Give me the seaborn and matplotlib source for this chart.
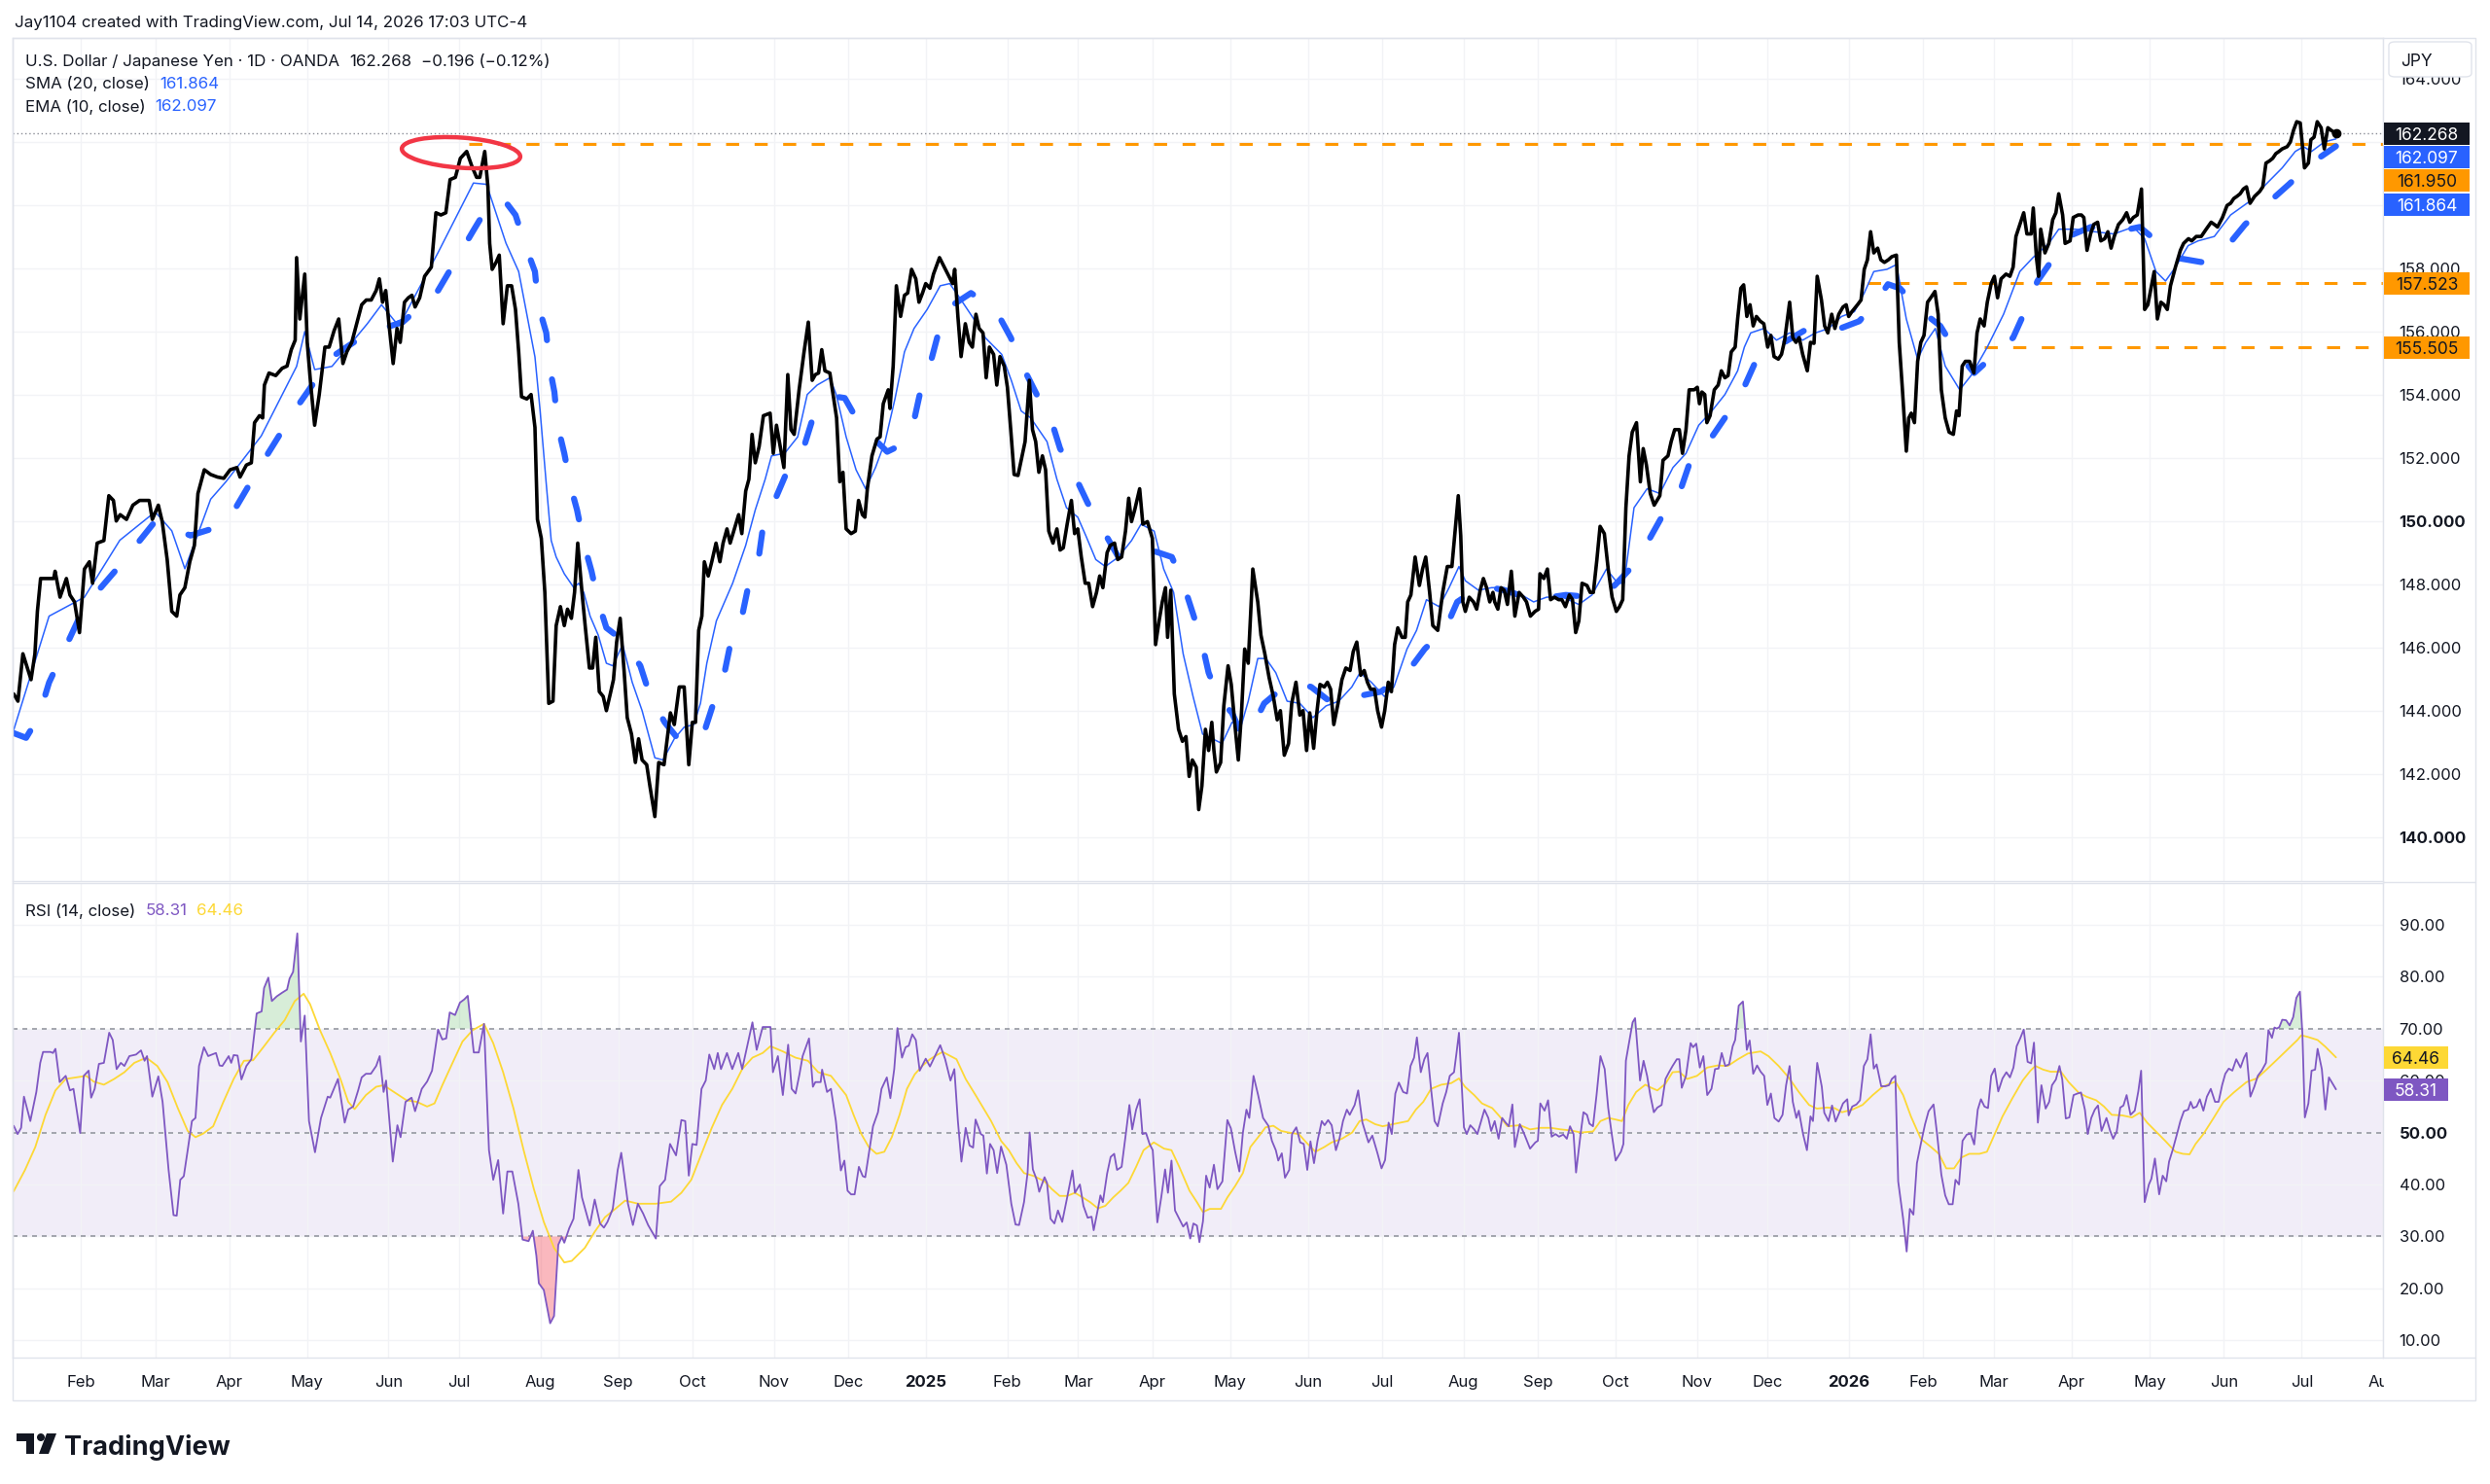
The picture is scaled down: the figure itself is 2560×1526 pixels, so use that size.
import matplotlib
matplotlib.use("Agg")
import matplotlib.pyplot as plt
from matplotlib.patches import Ellipse, FancyBboxPatch, Rectangle, Circle, Polygon
from matplotlib.transforms import IdentityTransform
from matplotlib.lines import Line2D
import pandas as pd
import seaborn as sns


# ---------------------------------------------------------------------------
# Data: (session index since 2024-01-05, value)
# ---------------------------------------------------------------------------
close_2024 = [
    (0, 144.54), (1.2, 144.31), (2.6, 145.81), (4.9, 144.99), (6, 145.81), (6.7, 147.15), (7.6, 148.19),
    (11.3, 148.19), (11.7, 148.42), (13.1, 147.6), (14.9, 148.19), (15.9, 147.67), (17.2, 147.45),
    (18.6, 146.48), (20, 148.49), (21.4, 148.72), (22.3, 148.04), (23.6, 149.31), (25.5, 149.39),
    (26.9, 150.81), (28.2, 150.66), (29, 150.01), (30.1, 150.21), (31.9, 150.06), (33.7, 150.51),
    (35.6, 150.66), (38.3, 150.66), (39.2, 150.06), (40.9, 150.51), (42, 149.99), (43.4, 148.79),
    (44.7, 147.15), (46.1, 147.0), (47, 147.67), (48.4, 147.9), (49.8, 148.72), (51.1, 149.24),
    (52.1, 150.88), (53.9, 151.63), (55.7, 151.48), (57.6, 151.4), (59.4, 151.36), (61.2, 151.63),
    (63.1, 151.7), (64, 151.4), (65.8, 151.78), (67.2, 151.85), (68.1, 153.12), (69.5, 153.34),
    (70.4, 153.27), (70.9, 154.31), (72.2, 154.69), (74.1, 154.61), (75.9, 154.84), (77.3, 154.91),
    (78.5, 155.43), (79.6, 155.73), (80, 158.34), (80.9, 156.4), (82.3, 157.82), (83, 155.66),
    (84, 154.31), (85.1, 153.04), (86.4, 154.01), (88, 155.51), (89.2, 155.51), (90.6, 156.03),
    (91.9, 156.4), (93.1, 154.99), (94.2, 155.36), (95.6, 155.66), (97, 156.25), (98.4, 156.85),
    (99.7, 157.0), (101.1, 157.0), (102.5, 157.3), (103.4, 157.67), (104.3, 156.93), (105.2, 157.3),
    (106.1, 156.25), (107.3, 154.99), (108.4, 156.1), (109.3, 155.66), (110.5, 156.93), (111.6, 157.07),
    (112.6, 157.15), (113.5, 156.78), (114.8, 157.07), (116.2, 157.75), (118.1, 158.04), (119.4, 159.76),
    (120.8, 159.69), (122.2, 159.76), (123.4, 160.81), (124.9, 160.88), (126.3, 161.48), (128.1, 161.7),
    (129.5, 161.25), (130.9, 160.88), (131.8, 160.88), (133.2, 161.7), (134.1, 160.58), (134.6, 158.79),
    (135.3, 157.97), (136.4, 158.19), (137.3, 158.42), (138.4, 156.25), (139.6, 157.45), (140.8, 157.45),
    (141.9, 156.7), (142.8, 155.36), (143.6, 153.94), (145.1, 153.87), (146.3, 154.01), (147.4, 152.97),
    (148.1, 150.06), (149.2, 149.46), (150.2, 147.75), (151.3, 144.24), (152.5, 144.31), (153.4, 146.7),
    (154.6, 147.3), (155.7, 146.7), (156.6, 147.22), (157.7, 146.93), (158.6, 147.75), (159.5, 149.31),
    (160.7, 147.75), (161.6, 146.7), (162.8, 145.36), (163.7, 145.36), (164.6, 146.33), (165.6, 144.61),
    (166.7, 144.46), (167.6, 144.01), (168.7, 144.54), (169.6, 144.99), (170.5, 146.18), (171.5, 146.93),
    (172.6, 145.28), (173.5, 143.79), (174.7, 143.27), (175.8, 142.37), (176.7, 143.12), (177.7, 142.45),
    (179.0, 142.3), (179.9, 141.63), (181.3, 140.66), (182.4, 142.37), (183.9, 142.3), (185.7, 143.94),
    (186.8, 143.57), (188.2, 144.76), (189.6, 144.76), (190.9, 142.3), (191.9, 143.64), (192.8, 143.64),
    (193.7, 146.55), (194.6, 147.0), (195.3, 148.72), (196.4, 148.27), (197.4, 148.72), (198.6, 149.31),
    (199.7, 148.72), (200.6, 149.31), (201.7, 149.76), (202.6, 149.31), (203.8, 149.76), (205, 150.21),
    (205.9, 149.61), (207, 150.96), (207.9, 151.33), (208.8, 152.75), (209.7, 151.85), (210.8, 152.37),
    (212, 153.34), (213.9, 153.42), (214.8, 152.15), (215.7, 153.04), (217.8, 151.7), (218.9, 154.64),
    (219.8, 152.9), (220.7, 152.75), (222.1, 154.16), (223.5, 155.36), (224.7, 156.3), (225.8, 154.46),
    (226.7, 154.64), (227.6, 154.69), (228.5, 155.43), (229.4, 154.76), (230.8, 154.69), (232.7, 153.27),
    (233.6, 151.25), (234.5, 151.55), (235.4, 149.76), (236.8, 149.61), (238, 149.69), (238.9, 150.66),
    (240, 150.21), (240.7, 150.13), (241.4, 151.03), (242.7, 152.07), (244.1, 152.6), (245, 152.67),
    (245.9, 153.72), (247.3, 154.16), (247.8, 153.57), (248.7, 154.91), (249.6, 157.45), (250.8, 156.48),
    (251.9, 157.15), (252.8, 157.22), (253.9, 157.97), (255.1, 157.67), (256, 156.93), (257, 157.22),
    (257.9, 157.52),
]
close_2025 = [
    (259.1, 157.37), (260.1, 157.82), (261.8, 158.34), (263.8, 157.9), (265.5, 157.52), (266.1, 157.97),
    (267.0, 156.48), (267.9, 155.21), (269.1, 156.25), (270.2, 155.66), (271.1, 155.51), (272.1, 156.55),
    (273, 156.1), (274.1, 155.96), (275, 154.54), (275.9, 155.51), (277.1, 155.28), (278, 154.31),
    (278.9, 155.21), (280.1, 154.91), (281, 154.24), (282, 152.82), (282.9, 151.48), (284, 151.45),
    (284.9, 151.93), (286, 152.52), (287.2, 154.46), (288.1, 152.9), (289, 152.52), (289.9, 151.55),
    (290.9, 152.07), (291.8, 151.63), (292.7, 149.69), (293.9, 149.31), (295, 149.76), (295.9, 149.09),
    (296.8, 149.16), (297.9, 149.91), (299.1, 150.66), (300, 149.61), (300.9, 149.76), (301.9, 148.87),
    (303.0, 148.04), (304, 148.04), (305.1, 147.3), (306.2, 147.75), (307.1, 148.27), (308, 147.9),
    (309.2, 149.01), (310.1, 149.24), (311.3, 149.31), (312.2, 148.79), (313.3, 148.87), (314.4, 149.69),
    (315.3, 150.73), (316.1, 149.99), (317, 150.36), (318.4, 151.03), (319.3, 149.91), (320.6, 149.99),
    (322, 149.46), (322.9, 146.1), (323.9, 146.85), (324.8, 147.45), (325.7, 147.9), (326.3, 146.33),
    (327.2, 147.82), (328.2, 144.54), (329.4, 143.42), (330.5, 143.04), (331.5, 143.19), (332.4, 141.93),
    (333.3, 142.45), (334.4, 142.22), (335.1, 140.88), (336, 141.63), (337, 143.42), (337.9, 142.75),
    (338.8, 143.64), (339.4, 142.75), (340.1, 142.07), (341.3, 142.37), (342.2, 144.16), (343.4, 145.43),
    (344.3, 144.84), (345.4, 143.49), (346.3, 142.45), (347.2, 143.94), (348.1, 145.96), (349.1, 145.51),
    (350.4, 148.49), (351.8, 147.45), (352.7, 146.4), (353.8, 145.81), (355, 145.06), (356.2, 144.46),
    (357.3, 143.72), (358.2, 144.01), (359.3, 142.6), (360.5, 142.97), (361.4, 144.24), (362.6, 144.91),
    (363.7, 143.87), (364.6, 144.01), (365.6, 142.75), (366.5, 143.94), (367.6, 142.82), (368.5, 143.94),
    (369.4, 144.84), (370.6, 144.76), (371.5, 144.91), (372.4, 144.69), (373.3, 143.57), (374.5, 144.24),
    (375.6, 144.99), (376.7, 145.36), (377.9, 145.28), (378.8, 145.88), (379.8, 146.18), (380.9, 145.13),
    (381.9, 145.28), (382.8, 144.91), (383.7, 144.69), (384.8, 144.69), (385.7, 144.01), (386.8, 143.49),
    (387.7, 144.01), (388.7, 144.91), (389.6, 144.61), (390.5, 146.1), (391.4, 146.63), (392.6, 146.33),
    (393.5, 146.33), (394.2, 147.45), (395.1, 147.67), (396.3, 148.87), (397.5, 147.97), (398.4, 148.49),
    (399.3, 148.87), (400.4, 147.75), (401.3, 146.7), (402.7, 146.55), (404.1, 147.75), (405.4, 148.57),
    (406.7, 148.57), (407.6, 149.69), (408.5, 150.81), (409.2, 149.54), (409.8, 147.45), (410.5, 147.15),
    (411.6, 147.6), (412.8, 147.45), (413.7, 147.22), (414.7, 147.82), (415.6, 148.19), (416.5, 147.9),
    (417.4, 147.45), (418.3, 147.75), (418.8, 147.45), (419.7, 147.22), (420.6, 147.9), (421.5, 147.82),
    (422.4, 147.37), (423.5, 148.42), (424.5, 147.0), (425.7, 147.75), (426.9, 147.6), (427.8, 147.45),
    (428.9, 147.0), (430.2, 147.15), (431.2, 147.22), (431.6, 148.34), (432.7, 148.19), (433.7, 148.49),
    (434.6, 147.52), (435.7, 147.6), (436.9, 147.52), (437.8, 147.52), (438.8, 147.3), (439.9, 147.67),
    (440.8, 147.52), (441.7, 146.48), (442.6, 146.85), (443.5, 148.04), (444.9, 147.97), (445.8, 147.75),
    (446.7, 147.75), (447.7, 148.79), (448.6, 149.84), (449.8, 149.61), (450.9, 148.49), (452, 147.6),
    (453.2, 147.15), (454.1, 147.3), (455, 147.52), (455.9, 150.43), (456.8, 152.07), (457.7, 152.82),
    (458.9, 153.12), (460, 151.25), (460.8, 152.3), (461.7, 151.78), (462.8, 150.88), (463.9, 150.51),
    (465.5, 150.81), (466.4, 151.93), (467.8, 152.07), (468.7, 152.52), (469.7, 152.9), (471, 152.9),
    (471.9, 152.15), (472.9, 152.9), (473.8, 154.16), (475.2, 154.16), (476.1, 154.24), (476.7, 153.72),
    (477.4, 154.09), (478.2, 154.01), (478.8, 153.12), (479.7, 153.34), (480.9, 154.16), (482.0, 154.31),
    (482.9, 154.76), (483.9, 154.54), (484.8, 154.61), (485.7, 155.36), (486.8, 155.51), (487.5, 156.4),
    (488.4, 157.37), (489.2, 157.48), (490.1, 156.48), (491, 156.85), (491.9, 156.18), (492.8, 156.48),
    (493.9, 156.33), (494.9, 156.25), (496, 155.51), (496.9, 155.88), (497.8, 155.21), (499, 155.13),
    (499.9, 155.28), (500.8, 155.73), (502.2, 156.93), (503.1, 155.81), (504, 155.66), (504.9, 155.81),
    (505.9, 155.28), (507.2, 154.76), (508.1, 155.66), (509.1, 155.63), (510, 157.75), (511.2, 157.0),
    (512.1, 156.18), (513, 155.96), (514.1, 156.55), (515, 156.1), (516.1, 156.55), (517.3, 156.78),
    (518.2, 156.85), (518.9, 156.48),
]
close_2026 = [
    (519.8, 156.63), (521.4, 156.85), (522.4, 157.0), (523.3, 157.97), (524.2, 158.27), (525.1, 159.16),
    (526, 158.49), (527.1, 158.64), (528, 158.27), (529, 158.19), (530.1, 158.27), (531.1, 158.37),
    (532.4, 158.42), (533.2, 155.66), (534.1, 154.16), (535.2, 152.22), (535.9, 153.27), (536.6, 153.42),
    (537.5, 153.12), (538.4, 155.06), (539.3, 155.66), (540.2, 155.88), (541.2, 156.93), (542.1, 157.07),
    (543.3, 157.27), (544.2, 156.55), (545.1, 154.16), (546.2, 153.27), (547.3, 152.82), (548.5, 152.75),
    (549.4, 153.49), (550.1, 153.34), (551, 154.91), (551.9, 155.06), (553.1, 155.06), (554.3, 154.69),
    (555.2, 155.96), (556.1, 156.4), (557.2, 156.18), (558.1, 156.93), (559.2, 157.52), (560.1, 157.75),
    (561.0, 157.07), (562, 157.67), (563.4, 157.82), (564.5, 157.75), (565.4, 158.04), (566.2, 159.01),
    (567.3, 159.39), (568.4, 159.76), (569.3, 159.09), (570.5, 159.09), (571.1, 159.91), (572.0, 158.34),
    (572.6, 157.75), (573.2, 159.24), (574.4, 158.49), (575.5, 158.79), (576.6, 159.54), (577.5, 159.76),
    (578.3, 160.36), (579.4, 159.69), (580.1, 158.79), (581.5, 158.87), (582.4, 159.61), (583.8, 159.69),
    (584.7, 159.69), (585.4, 159.61), (586.3, 158.57), (587.3, 159.09), (588.2, 159.39), (589.3, 159.46),
    (590.2, 158.87), (591.3, 158.94), (592.2, 159.16), (593.1, 158.64), (594.0, 159.01), (595.2, 159.39),
    (596.4, 159.54), (597.5, 159.76), (598.4, 159.46), (599.4, 159.61), (600.5, 159.69), (601.7, 160.51),
    (602.6, 156.7), (603.5, 156.85), (604.4, 157.37), (605.3, 157.9), (606.2, 156.4), (607.2, 156.93),
    (608.1, 156.85), (609, 156.7), (609.9, 157.45), (611.3, 158.04), (612.7, 158.57), (613.6, 158.79),
    (615, 158.94), (615.9, 158.87), (617.2, 159.01), (618.6, 159.01), (620, 159.24), (621.4, 159.46),
    (622.3, 159.39), (623.2, 159.31), (624.6, 159.61), (625.9, 159.99), (626.9, 160.06), (627.8, 160.21),
    (628.7, 160.28), (629.6, 160.36), (630.5, 160.51), (631.4, 160.58), (632.4, 160.06), (633.7, 160.28),
    (635.1, 160.43), (636, 160.58), (636.9, 161.33), (637.9, 161.4), (638.8, 161.48), (639.7, 161.63),
    (640.6, 161.7), (641.5, 161.78), (642.9, 161.85), (643.8, 162.0), (644.7, 162.37), (645.6, 162.64),
    (646.6, 162.6), (647.8, 161.18), (648.9, 161.33), (649.6, 162.07), (650.5, 162.15), (651.4, 162.64),
    (652.5, 162.45), (653.4, 161.78), (654.4, 162.45), (655.3, 162.37), (656.7, 162.268),
]

sma_20 = [
    (0, 143.3), (3.5, 143.15), (7, 143.8), (10, 144.9), (20, 147.3), (30, 148.6), (40, 150.0), (50, 149.55),
    (60, 149.9), (70, 151.8), (80, 153.6), (90, 155.2), (100, 155.95), (110, 156.3), (120, 157.3),
    (130, 159.2), (135, 160.13), (139.4, 160.06), (141.9, 159.69), (144.7, 158.72), (147.4, 157.9),
    (148.3, 156.85), (150.6, 155.96), (151.5, 154.91), (152.9, 154.09), (153.8, 153.04), (155.7, 152.15),
    (157.5, 151.1), (159.3, 150.36), (161.2, 149.31), (163.4, 148.42), (165.3, 147.45), (167.6, 146.63),
    (172.6, 146.2), (177.2, 145.43), (180, 144.46), (184.1, 143.64), (188, 143.1), (191.4, 142.97),
    (195.5, 143.42), (198.3, 144.39), (201, 145.21), (202.9, 146.25), (206.1, 147.07), (207.9, 148.04),
    (210.7, 148.87), (212, 149.91), (215.2, 150.66), (218.9, 151.63), (223.5, 152.37), (226.2, 153.34),
    (232.6, 153.94), (235, 153.9), (238.2, 153.27), (244.1, 152.52), (247, 152.2), (250.1, 152.37),
    (254.6, 153.19), (256.5, 154.16), (259.2, 154.99), (261.5, 155.96), (264.7, 156.78), (270.7, 157.22),
    (277.6, 156.7), (282, 155.8), (284.9, 154.99), (289.3, 154.01), (293, 153.34), (295.9, 152.3),
    (299.6, 151.55), (303.7, 150.58), (307.4, 149.84), (312.4, 148.87), (319.7, 149.16), (327.5, 148.87),
    (330.7, 148.04), (333.5, 147.07), (335.8, 146.25), (337.9, 145.21), (340.8, 144.39), (344.5, 143.94),
    (347.2, 143.27), (349.5, 143.3), (353.6, 144.24), (359.1, 144.76), (363, 144.9), (366.9, 144.76),
    (372.9, 144.24), (379.8, 144.46), (386.6, 144.61), (394, 145.21), (399, 145.96), (405, 146.63),
    (408.2, 147.45), (415.1, 147.97), (421.5, 147.82), (429.8, 147.52), (438.9, 147.67), (446.3, 147.6),
    (452.7, 147.97), (457.7, 148.57), (461.9, 149.31), (466.4, 150.21), (471, 150.88), (474.2, 151.93),
    (479.3, 152.52), (484.3, 153.34), (488.4, 154.01), (492.6, 155.06), (499.4, 155.58), (506.3, 156.03),
    (513.2, 155.96), (521.9, 156.33), (527, 157.0), (530, 157.5), (533.4, 157.37), (538.9, 156.7),
    (544.8, 156.18), (548.9, 155.43), (554.4, 154.69), (559.5, 155.21), (565.4, 155.81), (568.7, 156.63),
    (572.3, 157.6), (576.9, 158.34), (581, 159.01), (587.4, 159.31), (594.8, 159.16), (601.2, 159.31),
    (604.4, 159.01), (611.3, 158.34), (619.1, 158.19), (625.5, 158.64), (631, 159.39), (637.4, 160.06),
    (643.4, 160.66), (649.8, 161.33), (656.7, 161.864),
]

ema_10 = [
    (0, 143.4), (10, 147.0), (20, 147.6), (30, 149.4), (40, 150.3), (44.7, 149.7), (48.4, 148.5),
    (52.1, 149.6), (55.7, 150.7), (60, 151.25), (70, 152.7), (80, 154.9), (82.3, 156.0), (85.1, 154.8),
    (90, 154.9), (100, 156.25), (104, 156.85), (108, 156.3), (110, 156.4), (120, 158.5), (130, 160.7),
    (133.7, 160.66), (139.2, 158.8), (142.8, 157.9), (147.4, 155.2), (148.8, 153.57), (150.6, 151.18),
    (152, 149.39), (153.4, 148.87), (155.7, 148.34), (158.4, 147.9), (159.8, 148.04), (161.2, 147.75),
    (163, 147.0), (165.3, 146.4), (167.6, 145.51), (169.4, 145.43), (172.2, 146.1), (174.9, 144.91),
    (177.7, 144.01), (181.3, 142.52), (183.6, 142.45), (186.8, 143.12), (189.6, 143.49), (192.3, 143.57),
    (194.2, 144.24), (196, 145.51), (198.7, 146.85), (203.3, 148.04), (207, 149.24), (209.7, 150.36),
    (212.5, 151.33), (214.3, 152.07), (218, 152.15), (221.7, 152.67), (224.4, 154.01), (227.2, 154.31),
    (230.8, 154.54), (232.6, 154.01), (235.4, 152.67), (238.2, 151.63), (240.9, 151.03), (243.7, 151.7),
    (246.4, 152.52), (249.2, 153.87), (251.9, 155.36), (254.6, 156.1), (258.3, 156.7), (262, 157.45),
    (264.7, 157.52), (267.5, 157.07), (271.2, 156.45), (274.8, 155.8), (279.4, 155.28), (282.1, 154.46),
    (284.9, 153.49), (287.6, 153.27), (292.2, 152.52), (295, 151.33), (297.7, 150.43), (300.9, 150.13),
    (303.2, 149.54), (306, 148.79), (308.7, 148.57), (312.4, 148.87), (316.1, 149.39), (318.8, 149.91),
    (322.5, 149.69), (325.2, 148.49), (328, 147.75), (330.7, 145.81), (333.5, 144.46), (336.2, 143.27),
    (339, 143.12), (341.7, 142.97), (344.5, 143.64), (347.2, 143.57), (349.1, 144.31), (351.8, 145.66),
    (354.1, 145.66), (356.9, 145.21), (360.1, 144.31), (363.7, 144.24), (367.4, 143.79), (371.1, 144.16),
    (374.7, 144.31), (378.4, 144.76), (380.7, 145.21), (383.9, 144.91), (387.6, 144.46), (390.3, 144.76),
    (394, 145.96), (396.7, 146.55), (399.5, 147.52), (403.1, 147.3), (405.9, 147.9), (408.7, 148.57),
    (410.5, 148.12), (414.2, 147.82), (417.9, 147.9), (421.5, 147.9), (425.2, 147.75), (429.8, 147.45),
    (433.5, 147.6), (438, 147.6), (442.6, 147.37), (446.3, 147.67), (450.4, 148.49), (453.6, 148.04),
    (455.4, 148.04), (458.2, 150.43), (461.9, 151.03), (465.5, 150.88), (469.2, 151.7), (472.9, 152.15),
    (476.5, 153.04), (480.2, 153.49), (483.9, 154.01), (487.5, 154.76), (489.4, 155.51), (491.2, 155.96),
    (494.9, 156.1), (498.5, 155.73), (502.2, 155.96), (505.9, 155.73), (509.5, 155.96), (513.2, 156.1),
    (516.9, 156.48), (520.5, 156.63), (523.3, 157.22), (526, 157.9), (529.7, 157.97), (532.4, 158.12),
    (535.2, 156.4), (538.4, 155.13), (540.7, 155.66), (543.4, 156.1), (546.2, 154.91), (550.3, 154.16),
    (553.5, 154.61), (558.1, 155.51), (562.7, 156.55), (567.3, 157.9), (571, 158.34), (575.5, 158.79),
    (578.3, 159.24), (582.9, 159.24), (588.4, 159.16), (593.9, 159.09), (599.4, 159.31), (602.6, 158.94),
    (605.8, 157.9), (608.5, 157.6), (611.3, 158.04), (614.9, 158.72), (617.7, 158.87), (622.3, 159.01),
    (626.9, 159.69), (632.4, 160.13), (636.9, 160.66), (641.5, 161.18), (645.2, 161.7), (647.5, 161.85),
    (649.8, 161.7), (653.4, 162.0), (656.7, 162.097),
]

rsi_part1 = [
    (0, 51.3), (1.1, 49.7), (2.1, 50.9), (2.9, 56.9), (4.7, 52.2), (6.4, 57.8), (7.5, 63.4), (8.3, 65.5),
    (10.4, 65.5), (11.1, 65.3), (11.8, 66.1), (13, 59.7), (14.7, 60.9), (15.9, 58.1), (16.9, 58.4),
    (18.8, 49.9), (19.8, 60.9), (21.2, 61.9), (21.9, 56.7), (22.9, 58.4), (24.1, 63.2), (25.5, 63.4),
    (27, 69.2), (28, 67.8), (29.1, 62.2), (30.3, 63.4), (31.3, 62.8), (32.7, 64.7), (34.6, 65.0),
    (36, 65.8), (37, 63.8), (37.7, 64.7), (39.2, 56.9), (40.9, 60.8), (42.1, 55.9), (43.8, 42.8),
    (45.2, 34.1), (46.1, 34.0), (47.1, 40.9), (48.1, 41.6), (49.2, 46.6), (50.4, 52.2), (51.4, 52.8),
    (52.4, 62.8), (53.8, 66.4), (55, 64.7), (55.7, 64.9), (57.2, 65.3), (58.2, 62.9), (59, 62.8),
    (60.8, 64.7), (61.5, 63.4), (62.2, 64.9), (63.3, 64.8), (64.4, 60.2), (65.8, 62.8), (67.2, 64.1),
    (68.7, 72.9), (70.1, 73.3), (70.8, 77.8), (72, 79.8), (73, 75.3), (74.4, 76.2), (75.9, 76.9),
    (77.3, 77.5), (78, 79.6), (79, 80.9), (80.2, 88.3), (81.2, 67.5), (82.3, 72.5), (83.5, 52.2),
    (85.2, 46.2), (86.9, 52.8), (88.8, 56.9), (89.5, 56.7), (91.7, 60.3), (93.6, 51.9), (94.6, 54.4),
    (96, 55.0), (97.4, 58.1), (98.4, 60.6), (99.6, 61.3), (101, 61.3), (102.5, 62.8), (103.5, 64.7),
    (104.6, 57.8), (105.3, 60.0), (107.2, 44.4), (108.5, 51.4), (109.4, 49.1), (110.8, 55.9), (112.5, 56.7),
    (113.5, 54.1), (115.4, 58.4), (116.9, 59.8), (118.3, 61.9), (120, 69.8), (121.2, 67.9), (122.3, 68.1),
    (123.3, 73.1), (124.8, 72.6), (126.2, 75.0), (127.4, 75.6), (128.4, 76.3), (130.1, 65.4), (131.5, 65.4),
    (133, 70.9), (134.4, 46.6), (135.6, 40.9), (137, 44.7), (138.4, 34.4), (139.6, 42.5), (141, 42.5),
    (142.7, 36.3), (143.9, 29.4), (145.6, 29.1), (146.8, 31.1), (147.8, 26.3), (148.5, 21.0), (149.9, 19.7),
    (151.7, 13.3), (152.8, 14.7), (154, 28.4), (155, 29.9), (155.7, 28.8), (157.1, 31.6), (158.3, 33.4),
    (159.7, 42.8), (160.7, 37.5), (162.9, 32.1), (164.3, 37.1), (165.8, 32.5), (166.9, 31.7), (167.9, 32.8),
    (169.4, 35.3), (170.8, 42.8), (171.8, 46.1), (173.7, 36.3), (175.1, 32.2), (176.5, 36.3), (178, 34.4),
    (179.4, 32.2), (181.6, 29.6), (182.7, 39.7), (184.2, 40.9), (185.6, 47.8), (187.3, 45.6), (188.8, 52.4),
    (189.9, 52.2), (190.9, 41.7), (191.9, 47.8), (193.1, 47.6), (194.5, 58.4), (195.7, 60.0), (196.7, 65.0),
    (198.1, 62.2), (199.1, 65.3), (200, 62.2), (201.7, 65.3), (203.2, 62.2), (204.9, 65.3), (206, 62.2),
    (207.2, 65.9), (208.9, 71.2), (210.1, 65.9), (211.8, 70.3), (214, 70.3), (214.7, 61.6), (216.1, 64.7),
    (217.5, 57.2), (219, 66.9), (220, 58.4), (221.1, 57.5), (222.2, 61.2),
]
rsi_part2 = [
    (223.1, 64.7), (224.9, 68.1), (226, 58.8), (226.7, 59.7), (228.2, 59.7), (228.6, 62.1), (230.0, 57.8),
    (231.1, 58.4), (232.5, 52.2), (233.9, 42.7), (234.9, 44.6), (235.8, 38.8), (236.8, 38.1), (237.8, 38.1),
    (239, 43.4), (240.1, 41.6), (240.8, 41.4), (241.8, 45.9), (243, 51.2), (244.4, 53.9), (245.4, 58.4),
    (246.9, 60.6), (247.9, 56.6), (249, 62.2), (249.9, 70.1), (251.2, 64.4), (252.2, 66.4), (253.1, 66.7),
    (254.1, 68.9), (255.1, 67.8), (256.2, 61.9), (257.9, 64.2), (259.1, 62.7), (260.5, 64.7), (262, 66.8),
    (263.4, 64.1), (264.9, 60.0), (266, 62.2), (267, 52.2), (268, 44.4), (269.2, 50.9), (270.3, 47.5),
    (271.3, 47.1), (272, 52.5), (273.5, 49.7), (274.2, 49.4), (275.2, 42.1), (276.1, 47.8), (277.1, 46.6),
    (278.1, 42.2), (279.2, 47.3), (280.7, 43.8), (282.1, 36.3), (283.3, 32.3), (284.3, 32.2), (285.7, 36.6),
    (286.7, 42.2), (287.3, 50.0), (288.2, 42.9), (289.3, 40.9), (290, 38.6), (291.5, 41.4), (292.2, 40.3),
    (293.2, 33.4), (294.3, 32.5), (295.3, 35.0), (296.5, 32.8), (297.9, 37.5), (299.4, 42.7), (300.1, 38.4),
    (301.5, 40.0), (302.5, 35.9), (303.7, 33.6), (304.8, 33.8), (305.4, 31.2), (306.6, 35.3), (307.3, 37.9),
    (308, 36.6), (309.2, 42.1), (310.2, 45.3), (311.2, 45.9), (312, 42.8), (313.3, 43.4), (314.5, 49.8),
    (315.5, 55.3), (316.3, 50.6), (317.4, 54.4), (318.4, 56.4), (319.2, 49.7), (320.2, 49.9), (321.2, 47.8),
    (322.1, 46.6), (323.4, 32.7), (324.5, 37.5), (325.6, 42.9), (326.4, 38.4), (327.4, 44.6), (328.4, 35.0),
    (329.6, 33.4), (330.7, 31.9), (331.7, 32.7), (332.7, 29.6), (333.6, 32.5), (334.6, 32.1), (335.3, 28.9),
    (336.3, 32.9), (337.2, 41.7), (338.2, 39.4), (339.4, 43.8), (340.4, 39.1), (341.8, 40.6), (343.2, 52.4),
    (344.2, 50.8), (345.4, 46.3), (346.6, 42.5), (347.6, 50.0), (348.6, 54.4), (349.4, 52.8), (350.6, 60.9),
    (351.9, 57.2), (353.3, 52.8), (354.8, 51.3), (355.8, 48.4), (356.9, 46.6), (357.6, 44.6), (358.6, 46.0),
    (359.5, 41.3), (360.7, 42.8), (361.5, 49.7), (362.7, 51.0), (363.8, 48.1), (364.8, 47.8), (365.8, 42.8),
    (366.7, 48.3), (367.7, 44.1), (368.7, 48.4), (369.9, 52.2), (370.7, 51.4), (371.7, 52.4), (372.7, 51.4),
    (373.9, 46.6), (374.9, 48.8), (375.9, 52.2), (377, 54.4), (377.8, 53.4), (379.2, 55.3), (380.2, 58.1),
    (381.4, 51.9), (383.1, 48.1), (384.2, 49.4), (385.7, 45.9), (386.8, 43.1), (387.8, 44.7), (388.8, 51.9),
    (389.7, 49.7), (390.7, 57.5), (391.7, 59.6), (392.9, 57.8), (394, 57.5), (395, 62.8), (396, 64.4),
    (396.8, 68.3), (397.9, 61.6), (398.9, 64.1), (399.8, 65.3), (400.8, 58.4), (401.8, 52.2), (402.7, 51.2),
    (404.1, 55.6), (405.1, 57.8), (406.1, 60.9), (407.3, 61.6), (408, 65.3), (408.7, 69.2), (410.1, 51.0),
    (410.9, 49.7), (411.9, 51.4), (413, 50.6), (413.9, 49.7), (415.2, 52.8), (415.9, 54.4), (417, 52.8),
    (417.8, 50.3), (418.8, 52.2), (419.9, 48.8), (420.9, 52.8), (421.9, 51.9), (422.8, 51.2), (423.8, 55.4),
    (424.5, 47.2), (425.9, 51.6), (427.1, 49.8), (428.8, 46.9), (430.3, 48.1), (431, 48.4), (431.7, 55.6),
    (432.9, 54.2), (433.9, 56.2), (434.9, 49.2), (436, 49.7), (437, 49.2), (438.2, 49.6), (439.2, 48.8),
    (440.1, 51.2), (441.1, 49.7), (441.8, 42.3), (443.2, 50.3), (443.9, 53.9), (444.9, 53.4),
]
rsi_part3 = [
    (445.6, 51.7), (446.6, 51.2), (447.6, 57.2), (448.7, 64.7), (449.9, 62.2), (450.9, 54.7), (451.9, 49.7),
    (453, 44.6), (454.5, 46.3), (455.2, 47.8), (455.9, 63.8), (457.1, 68.4), (457.8, 71.2), (458.5, 72.0),
    (459.9, 60.0), (460.9, 63.8), (461.9, 60.9), (462.8, 57.2), (463.8, 53.9), (464.8, 54.8), (466, 55.3),
    (467.1, 60.3), (468.1, 61.6), (469.1, 62.8), (470.3, 64.1), (471, 64.1), (471.7, 58.6), (472.9, 60.9),
    (474.2, 67.2), (474.9, 66.4), (475.8, 67.1), (476.8, 62.5), (477.8, 64.7), (478.9, 57.2), (480.1, 58.4),
    (481.1, 62.2), (482.1, 62.3), (483, 65.3), (484, 62.8), (485.1, 63.1), (486.1, 66.6), (486.8, 67.8),
    (487.8, 74.4), (489, 75.2), (490.1, 65.9), (490.9, 67.7), (491.9, 61.3), (493, 62.9), (494, 61.7),
    (495, 60.9), (495.9, 55.3), (496.9, 57.5), (497.9, 52.8), (499.1, 52.1), (500.2, 53.4), (501.2, 59.1),
    (502.2, 62.8), (503.1, 55.9), (504.1, 52.8), (504.8, 54.2), (506, 49.7), (507.1, 46.6), (508.1, 53.1),
    (508.8, 52.2), (510, 63.4), (511.3, 58.8), (512, 53.8), (513.2, 52.2), (514.2, 55.2), (515.2, 52.1),
    (516.3, 53.9), (517.3, 55.6), (518.5, 56.4), (518.9, 53.3), (519.9, 55.0), (521.1, 55.4), (522.1, 56.2),
    (523.2, 62.8), (524.2, 64.1), (525.1, 68.9), (526, 62.3), (526.8, 63.1), (528.1, 58.9), (529.3, 58.9),
    (530.3, 59.1), (531.1, 60.3), (532.1, 60.9), (532.9, 40.6), (534.3, 33.4), (535.3, 27.1), (536.2, 35.3),
    (537.2, 34.2), (538.2, 44.1), (539.3, 47.8), (540.5, 51.6), (541.5, 54.1), (542.9, 55.4), (543.9, 49.7),
    (545.1, 41.9), (546.2, 37.9), (547.2, 36.2), (548.3, 36.2), (549.1, 40.9), (550.1, 40.0), (551.1, 48.4),
    (552.3, 49.6), (553.4, 49.8), (554.4, 47.7), (555.4, 54.4), (556.3, 56.4), (557.3, 55.0), (558.3, 54.7),
    (559.2, 60.9), (560.2, 62.3), (561.2, 57.9), (562.4, 60.4), (563.5, 61.6), (564.5, 60.6), (565.5, 62.5),
    (566.4, 66.6), (567.4, 68.1), (568.4, 69.8), (569.5, 63.6), (570.5, 63.3), (571.3, 67.3), (572.4, 51.9),
    (573.4, 59.1), (574.6, 54.6), (575.6, 55.9), (576.4, 59.1), (577.5, 60.2), (578.5, 62.8), (579.3, 60.2),
    (580.3, 52.7), (581.3, 52.9), (582.5, 57.2), (583.6, 57.5), (584.6, 57.7), (585.7, 54.4), (586.5, 49.7),
    (587.5, 52.8), (588.5, 54.4), (589.4, 55.2), (590.4, 50.3), (591.8, 52.8), (592.8, 50.4), (593.7, 48.8),
    (594.7, 50.2), (595.7, 54.8), (596.6, 55.2), (597.5, 57.2), (598.6, 53.4), (599.8, 54.2), (600.8, 57.9),
    (601.6, 61.9), (602.6, 36.6), (603.8, 40.0), (604.5, 41.1), (605.5, 45.0), (606.7, 38.1), (607.7, 41.7),
    (608.7, 40.6), (609.5, 44.4), (610.5, 46.6), (611.7, 49.6), (612.7, 52.2), (613.7, 54.1), (614.9, 54.4),
    (615.6, 55.9), (616.3, 54.7), (617.3, 55.0), (618.2, 56.4), (619.2, 54.2), (620.2, 56.9), (621.3, 58.4),
    (622.5, 55.9), (623.5, 55.9), (624.5, 59.1), (625.4, 61.3), (626.4, 62.3), (627.4, 61.9), (628.5, 64.1),
    (629.7, 62.5), (630.7, 64.4), (631.4, 65.3), (632.5, 56.9), (633.6, 58.8), (634.6, 60.9), (635.7, 61.9),
    (636.9, 63.4), (637.6, 69.7), (638.6, 68.2), (639.3, 70.2), (640, 70.0), (640.7, 70.3), (641.5, 71.7),
    (642.6, 71.6), (643.6, 70.6), (644.6, 72.2), (645.5, 75.9), (646.5, 77.1), (647.2, 69.1), (647.9, 52.9),
    (648.9, 55.6), (649.8, 61.9), (650.8, 62.1), (651.5, 66.1), (652.7, 62.2), (653.7, 54.4), (654.7, 60.6),
    (656.7, 58.31),
]

rsi_ma = [
    (0, 38.7), (3.2, 42.8), (6.1, 47.2), (9, 53.4), (11.8, 58.1), (14.7, 60.3), (17.6, 60.6), (20.5, 60.9),
    (22.6, 59.8), (25.5, 59.2), (28.4, 60.3), (31.3, 61.6), (34.1, 63.4), (37.5, 64.4), (40.6, 62.8),
    (43.5, 59.7), (46.4, 54.7), (49.2, 50.3), (51.4, 49.1), (53.6, 49.8), (56.4, 51.2), (59.3, 55.9),
    (62.2, 60.3), (65.1, 63.8), (67.7, 63.9), (70.8, 66.6), (73.7, 69.2), (76.6, 71.6), (79.5, 75.3),
    (82.0, 76.7), (83.8, 74.7), (86.6, 69.7), (89.5, 65.3), (92.4, 60.3), (94.6, 55.9), (96.4, 54.5),
    (99.6, 57.2), (102.5, 58.8), (104.6, 59.1), (107.5, 57.8), (111.1, 56.2), (114, 55.9), (116.9, 55.0),
    (119, 55.6), (121.2, 59.1), (124.1, 63.4), (126.9, 67.5), (129.8, 69.7), (133, 70.9), (135.6, 67.2),
    (138.4, 61.6), (141.3, 54.7), (144.2, 46.6), (147.1, 39.1), (149.9, 32.8), (152.8, 27.8), (155.7, 25.0),
    (157.8, 25.3), (161.5, 27.8), (164.3, 30.9), (167.2, 33.7), (170.1, 35.3), (172.9, 36.9), (176.6, 36.3),
    (181.6, 36.3), (185.9, 36.7), (188.8, 38.4), (191.6, 40.9), (194.5, 45.9), (197.4, 50.9), (200.3, 55.3),
    (203.2, 58.4), (206, 62.2), (208.9, 64.4), (211.8, 65.3), (214, 66.6), (217.5, 65.6), (221.1, 64.4),
    (224.6, 63.8), (227.5, 61.6), (231.1, 60.9), (233.2, 59.1), (235.4, 57.2), (237.5, 53.4), (239.7, 49.7),
    (241.8, 47.2), (244, 45.9), (246.2, 46.3), (248.3, 49.1), (250.5, 53.4), (252.6, 58.4), (254.8, 61.2),
    (256.9, 62.8), (259.1, 64.1), (261.3, 65.0), (262.7, 65.5), (264.9, 64.7), (266.6, 64.1), (269.2, 60.3),
    (272, 57.2), (274.2, 54.7), (276.4, 52.2), (279.2, 48.4), (281.4, 46.6), (283.6, 44.1), (285.7, 42.2),
    (288.6, 41.6), (291.5, 40.6), (293.6, 39.1), (295.8, 37.8), (297.9, 37.8), (300.1, 38.4), (302.3, 37.5),
    (304.4, 36.6), (306.6, 35.4), (308.7, 35.9), (310.9, 37.5), (313, 38.8), (315.2, 40.3), (317.4, 43.4),
    (319.5, 46.6), (322.4, 48.1), (325.3, 46.9), (327.4, 46.6), (329.6, 43.4), (332.5, 38.8), (334.6, 36.6),
    (336.3, 34.7), (338.2, 35.3), (341.4, 35.3), (343.2, 37.5), (345.4, 39.7), (347.6, 42.2), (349.7, 47.2),
    (351.9, 49.1), (354, 51.0), (356.2, 51.3), (358.4, 50.3), (360.5, 50.0), (363.4, 49.7), (365.5, 48.1),
    (368.1, 46.3), (370.6, 47.2), (372.7, 48.1), (375.6, 48.8), (378.5, 50.0), (380.6, 52.2), (382.5, 52.5),
    (385, 51.6), (387.1, 51.2), (390, 51.6), (392.2, 51.9), (394.3, 52.2), (396.5, 54.4), (398.6, 55.9),
    (400.8, 58.4), (403.7, 59.2), (406.5, 59.5), (408.7, 60.4), (410.4, 58.8), (413, 57.2), (415.2, 55.6),
    (418.1, 54.7), (420.2, 53.1), (422.4, 51.2), (426, 51.4), (428.8, 50.6), (431.7, 50.9), (434.6, 50.9),
    (437.5, 50.6), (440.3, 50.4), (443.2, 50.0), (446.6, 50.2), (448.7, 52.2), (450.9, 52.8), (453, 52.5),
    (454.8, 52.2), (456.6, 55.3), (458.8, 57.8), (461.4, 59.2), (463.1, 58.6), (464.8, 58.1), (467.1, 59.4),
    (469.1, 61.6), (471, 61.7), (473.2, 60.3), (476, 60.9), (478.9, 62.5), (481.8, 62.9), (484.7, 62.8),
    (487.6, 64.1), (490.4, 65.2), (494, 65.6), (496.2, 64.7), (499.1, 62.8), (501.9, 60.6), (504.8, 57.8),
    (507.7, 55.3), (509.9, 54.6), (512.7, 54.8), (514.9, 54.7), (517, 53.9), (519.9, 54.4), (522.8, 55.3),
    (525.7, 57.2), (528.5, 58.8), (532.1, 59.8), (534.3, 57.2), (536.5, 53.1), (539.3, 48.8), (542.2, 47.2),
    (544.4, 45.9), (546.5, 43.1), (548.7, 43.1), (550.8, 45.2), (553, 45.9), (555.9, 45.9), (558, 46.3),
    (560.2, 49.7), (562.4, 53.1), (565.2, 56.6), (568.1, 60.0), (570.3, 61.9), (571.7, 62.8), (573.9, 62.1),
    (576, 61.7), (578.9, 61.7), (581.1, 59.7), (583.9, 57.7), (586.1, 56.9), (588.9, 56.2), (591.1, 55.0),
    (593.3, 53.4), (596.2, 53.3), (599, 52.9), (601.2, 53.8), (603.3, 51.9), (605.5, 50.4), (608.4, 48.4),
    (611.3, 46.3), (613.4, 45.9), (615.3, 45.8), (617, 47.8), (619.2, 49.7), (622.1, 52.8), (624.9, 55.9),
    (627.8, 57.7), (631.4, 59.7), (634.3, 60.4), (637.2, 62.2), (640, 64.0), (642.9, 65.9), (645.8, 67.8),
    (646.9, 68.7), (648.7, 68.4), (651.5, 67.8), (653.7, 66.5), (656.7, 64.46),
]

# user-drawn horizontal levels and where they begin (session index)
level_values = [161.950, 157.523, 155.505]
level_start = [128.7, 524.2, 557.2]

last_close, last_change, last_change_pct = 162.268, -0.196, -0.12
last_sma, last_ema = 161.864, 162.097
last_rsi, last_rsi_ma = 58.31, 64.46

price_ticks = list(range(140, 166, 2))
hidden_price_ticks = [160, 162]   # sit under the price tags on the scale
rsi_ticks = list(range(10, 100, 10))

# ---------------------------------------------------------------------------
# Style
# ---------------------------------------------------------------------------
sns.set_theme(style="white")
plt.rcParams["font.family"] = ["Inter", "DejaVu Sans"]

TEXT = "#131722"
GRID = "#F2F3F6"
BORDER = "#E0E3EB"
BLUE = "#2962FF"
ORANGE = "#FF9800"
PURPLE = "#7E57C2"
YELLOW = "#FDD835"
RED = "#F23645"

W, H = 2560, 1526
fig = plt.figure(figsize=(W / 100, H / 100), dpi=100, facecolor="white")


def fx(px):
    return px / W


def fy(py):
    return 1 - py / H


LEFT, RIGHT = 13, 2450
ax = fig.add_axes([fx(LEFT), fy(906), fx(RIGHT) - fx(LEFT), fy(39) - fy(906)])
ax_rsi = fig.add_axes([fx(LEFT), fy(1396), fx(RIGHT) - fx(LEFT), fy(908) - fy(1396)], sharex=ax)

close = pd.DataFrame(close_2024 + close_2025 + close_2026, columns=["session", "price"])
sma = pd.DataFrame(sma_20, columns=["session", "value"])
ema = pd.DataFrame(ema_10, columns=["session", "value"])
rsi = pd.DataFrame(rsi_part1 + rsi_part2 + rsi_part3, columns=["session", "value"])
rsi_avg = pd.DataFrame(rsi_ma, columns=["session", "value"])

# ---------------------------------------------------------------------------
# Price pane
# ---------------------------------------------------------------------------
for lvl, start in zip(level_values, level_start):
    ax.hlines(lvl, start, 670, color=ORANGE, lw=2.2, linestyles=[(0, (4.4, 5.2))], zorder=2)

ax.axhline(last_close, color="#8A8D96", lw=1, linestyle=(0, (1, 2)), zorder=1.5)

sns.lineplot(data=sma, x="session", y="value", ax=ax, color=BLUE, linewidth=4.5,
             estimator=None, sort=False, zorder=3)
sma_line = ax.lines[-1]
sma_line.set_dashes([3.5, 6.5])
sma_line.set_dash_capstyle("round")

sns.lineplot(data=ema, x="session", y="value", ax=ax, color=BLUE, linewidth=1.1,
             estimator=None, sort=False, zorder=3)
sns.lineplot(data=close, x="session", y="price", ax=ax, color="black", linewidth=2.6,
             estimator=None, sort=False, zorder=4)
ax.plot(close["session"].iloc[-1], close["price"].iloc[-1], "o", color="black", ms=6, zorder=5)

# ---------------------------------------------------------------------------
# RSI pane
# ---------------------------------------------------------------------------
ax_rsi.axhspan(30, 70, color=PURPLE, alpha=0.10, lw=0, zorder=0.5)
for lvl in (70, 50, 30):
    ax_rsi.axhline(lvl, color="#9598A1", lw=1.2, linestyle=(0, (3, 3)), zorder=1)
ax_rsi.fill_between(rsi["session"], rsi["value"], 70, where=rsi["value"] > 70, interpolate=True,
                    color="#4CAF50", alpha=0.22, lw=0, zorder=1.5)
ax_rsi.fill_between(rsi["session"], rsi["value"], 30, where=rsi["value"] < 30, interpolate=True,
                    color=RED, alpha=0.35, lw=0, zorder=1.5)
sns.lineplot(data=rsi_avg, x="session", y="value", ax=ax_rsi, color=YELLOW, linewidth=1.3,
             estimator=None, sort=False, zorder=2)
sns.lineplot(data=rsi, x="session", y="value", ax=ax_rsi, color=PURPLE, linewidth=1.3,
             estimator=None, sort=False, zorder=3)

# ---------------------------------------------------------------------------
# Axes
# ---------------------------------------------------------------------------
sessions = pd.bdate_range("2024-01-05", "2026-09-30", freq="C", holidays=["2026-01-01"])
month_starts = pd.date_range("2024-02-01", "2026-08-01", freq="MS")
tick_pos = sessions.searchsorted(month_starts)
tick_lab = [d.strftime("%Y") if d.month == 1 else d.strftime("%b") for d in month_starts]

for a in (ax, ax_rsi):
    a.set_xlim(-0.3, 670)
    a.set_xlabel("")
    a.set_ylabel("")
    a.yaxis.tick_right()
    a.tick_params(axis="y", length=0, pad=12, labelsize=12, labelcolor=TEXT)
    a.tick_params(axis="x", length=0)
    a.grid(True, color=GRID, lw=1, zorder=0)
    a.set_axisbelow(True)
    for s in a.spines.values():
        s.set_color(BORDER)
        s.set_linewidth(1)
    a.set_facecolor("white")

ax.set_ylim(138.62, 165.29)
ax.set_yticks(price_ticks, ["" if v in hidden_price_ticks else f"{v:.3f}" for v in price_ticks])
for t, v in zip(ax.get_yticklabels(), price_ticks):
    if v % 10 == 0:
        t.set_fontweight("bold")

ax_rsi.set_ylim(6.7, 98.0)
ax_rsi.set_yticks(rsi_ticks, [f"{v:.2f}" for v in rsi_ticks])
for t, v in zip(ax_rsi.get_yticklabels(), rsi_ticks):
    if v == 50:
        t.set_fontweight("bold")

ax_rsi.set_xticks(tick_pos, tick_lab)
ax_rsi.tick_params(axis="x", pad=13, labelsize=12, labelcolor=TEXT)
for t, lab in zip(ax_rsi.get_xticklabels(), tick_lab):
    if lab.isdigit():
        t.set_fontweight("bold")
ax.tick_params(axis="x", labelbottom=False)

# frame, separators and the cut-off corner of the time scale
fig.add_artist(Rectangle((fx(13), fy(1440)), fx(2545) - fx(13), fy(39) - fy(1440),
                         transform=fig.transFigure, fill=False, ec=BORDER, lw=1, zorder=1))
fig.add_artist(Rectangle((fx(2451), fy(1439)), fx(2544) - fx(2451), (1439 - 1397) / H,
                         transform=fig.transFigure, fc="white", ec="none", zorder=4))
for ypx in (907, 1396):
    fig.add_artist(Line2D([fx(2450), fx(2545)], [fy(ypx), fy(ypx)], color=BORDER, lw=1,
                          transform=fig.transFigure, zorder=4.5))

# ---------------------------------------------------------------------------
# Scale tags
# ---------------------------------------------------------------------------
def y_px(axis, value):
    return H - axis.transData.transform((0, value))[1]


def tag(ycen, text, fc, tc, x0=2451, x1=2539, h=23):
    fig.add_artist(Rectangle((fx(x0), fy(ycen + h / 2)), fx(x1) - fx(x0), h / H,
                             transform=fig.transFigure, fc=fc, ec="none", zorder=5))
    fig.text(fx((x0 + x1) / 2), fy(ycen), text, color=tc, fontsize=12.5,
             ha="center", va="center_baseline", zorder=6)


top = y_px(ax, last_close)
tag(top, f"{last_close:.3f}", "#131722", "white")
tag(top + 24.3, f"{last_ema:.3f}", BLUE, "white")
tag(top + 48.6, f"{level_values[0]:.3f}", ORANGE, TEXT)
tag(top + 72.9, f"{last_sma:.3f}", BLUE, "white")
tag(y_px(ax, level_values[1]), f"{level_values[1]:.3f}", ORANGE, TEXT)
tag(y_px(ax, level_values[2]), f"{level_values[2]:.3f}", ORANGE, TEXT)
tag(y_px(ax_rsi, last_rsi_ma), f"{last_rsi_ma:.2f}", YELLOW, TEXT, x1=2517)
tag(y_px(ax_rsi, last_rsi), f"{last_rsi:.2f}", PURPLE, "white", x1=2517)

fig.add_artist(FancyBboxPatch((fx(2456), fy(79)), fx(2541) - fx(2456), 36 / H,
                              boxstyle="round,pad=0,rounding_size=0.0025",
                              transform=fig.transFigure, fc="white", ec=BORDER, lw=1, zorder=5))
fig.text(fx(2468), fy(61), "JPY", color=TEXT, fontsize=12.5, ha="left", va="center_baseline", zorder=6)

# ---------------------------------------------------------------------------
# Legends and header
# ---------------------------------------------------------------------------
renderer = fig.canvas.get_renderer()


def text_run(x, y, pieces, size=12.2, gap=8):
    for s, color, weight in pieces:
        t = fig.text(fx(x), fy(y), s, color=color, fontsize=size, fontweight=weight,
                     ha="left", va="center_baseline", zorder=6)
        x += t.get_window_extent(renderer=renderer).width + gap


text_run(15, 22, [("Jay1104 created with TradingView.com, Jul 14, 2026 17:03 UTC-4", TEXT, "normal")])
text_run(26, 62, [("U.S. Dollar / Japanese Yen · 1D · OANDA", TEXT, "normal"),
                  (f"{last_close:.3f}", TEXT, "normal"),
                  (f"\u2212{abs(last_change):.3f} (\u2212{abs(last_change_pct):.2f}%)", TEXT, "normal")], gap=10)
text_run(26, 85, [("SMA (20, close)", TEXT, "normal"), (f"{last_sma:.3f}", BLUE, "normal")], gap=10)
text_run(26, 108, [("EMA (10, close)", TEXT, "normal"), (f"{last_ema:.3f}", BLUE, "normal")], gap=10)
text_run(26, 935, [("RSI (14, close)", TEXT, "normal"), (f"{last_rsi:.2f}", PURPLE, "normal"),
                   (f"{last_rsi_ma:.2f}", YELLOW, "normal")], gap=10)

# red hand-drawn ellipse around the July 2024 top
fig.add_artist(Ellipse((474, H - 157), 122, 31, angle=-4, transform=IdentityTransform(),
                       fill=False, ec=RED, lw=3.2, zorder=4))

# TradingView wordmark
logo_t = IdentityTransform()
fig.add_artist(Rectangle((17, H - 1482), 18, 8, transform=logo_t, fc=TEXT, ec="none"))
fig.add_artist(Rectangle((27, H - 1495), 8, 21, transform=logo_t, fc=TEXT, ec="none"))
fig.add_artist(Circle((42, H - 1478), 4, transform=logo_t, fc=TEXT, ec="none"))
fig.add_artist(Polygon([(48, H - 1474), (58, H - 1474), (50, H - 1495), (40, H - 1495)],
                       closed=True, transform=logo_t, fc=TEXT, ec="none"))
fig.text(fx(66), fy(1485), "TradingView", color=TEXT, fontsize=19.5, fontweight="bold",
         ha="left", va="center_baseline")

fig.savefig("out.png", dpi=100, facecolor="white")
